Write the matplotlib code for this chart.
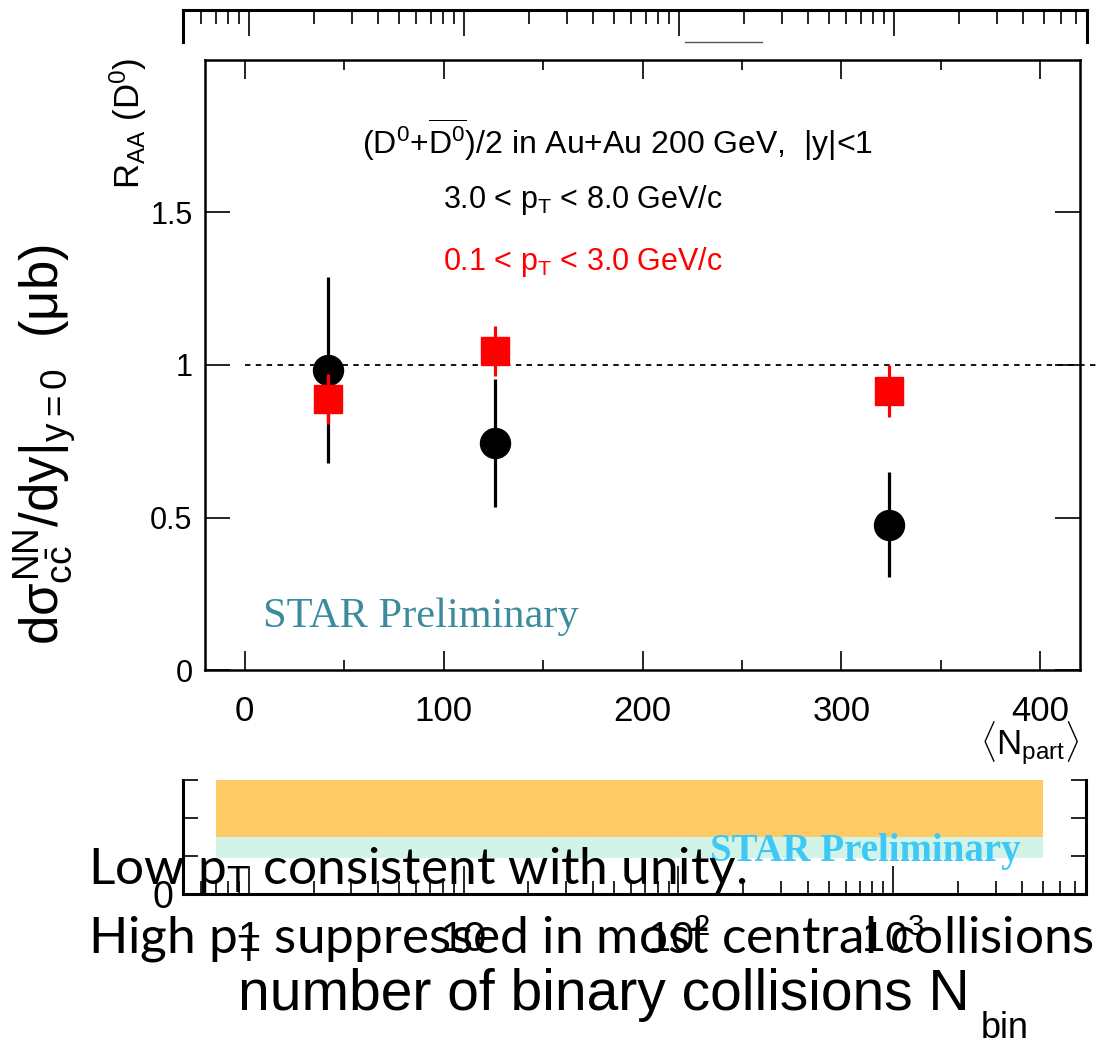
import matplotlib
matplotlib.use('Agg')
import matplotlib.pyplot as plt
from matplotlib.lines import Line2D

plt.rcParams['font.family'] = ['Liberation Sans', 'DejaVu Sans']
plt.rcParams['mathtext.fontset'] = 'custom'
plt.rcParams['mathtext.rm'] = 'Liberation Sans'
plt.rcParams['mathtext.it'] = 'Liberation Sans'
plt.rcParams['mathtext.sf'] = 'Liberation Sans'

# D0 R_AA vs <Npart>, Au+Au 200 GeV
npart = [42, 126, 324]
raa_high = [0.984, 0.743, 0.477]      # 3.0 < pT < 8.0 GeV/c
err_high = [0.305, 0.21, 0.172]
raa_low = [0.888, 1.046, 0.916]       # 0.1 < pT < 3.0 GeV/c
err_low = [0.083, 0.081, 0.085]

# lower panel: band vs number of binary collisions
band_x = [0.7, 5000]
orange_band = [1.5, 3.0]
cyan_band = [0.95, 1.5]
nbin_ticks = [1, 10, 100, 1000]
nbin_labels = ['1', '10', '$10^2$', '$10^3$']

W, H = 1101, 1048
fig = plt.figure(figsize=(W / 100, H / 100), dpi=100)


def box(l, t, r, b):
    return [l / W, 1 - b / H, (r - l) / W, (b - t) / H]


# top strip with log ticks
axs = fig.add_axes(box(183, 10, 1087, 42))
axs.set_xscale('log')
axs.set_xlim(0.493, 7906)
axs.set_yticks([])
axs.spines['bottom'].set_visible(False)
for s in ['top', 'left', 'right']:
    axs.spines[s].set_linewidth(2.2)
axs.tick_params(axis='x', which='both', direction='in', bottom=False, top=True,
                labelbottom=False, labeltop=False, width=1.2)
axs.tick_params(axis='x', which='major', length=19)
axs.tick_params(axis='x', which='minor', length=10)
fig.add_artist(Line2D([685 / W, 762 / W], [1 - 42 / H, 1 - 42 / H], color='#555555', lw=1))

# lower panel
axl = fig.add_axes(box(183, 780, 1086, 894))
axl.set_xscale('log')
axl.set_xlim(0.493, 7906)
axl.set_ylim(0, 3)
axl.fill_between(band_x, orange_band[0], orange_band[1], color='#fdca66', lw=0)
axl.fill_between(band_x, cyan_band[0], cyan_band[1], color='#d2f3e8', lw=0)
axl.spines['top'].set_visible(False)
for s in ['bottom', 'left', 'right']:
    axl.spines[s].set_linewidth(2.2)
axl.set_yticks([0, 1, 2, 3])
axl.set_yticklabels(['0', '', '', ''])
axl.set_xticks(nbin_ticks)
axl.set_xticklabels(nbin_labels)
axl.tick_params(axis='y', direction='in', left=True, right=True, length=11,
                width=1.2, labelsize=27, pad=7)
axl.tick_params(axis='x', which='both', direction='in', top=False, width=1.2,
                labelsize=30, pad=19)
axl.tick_params(axis='x', which='major', length=20)
axl.tick_params(axis='x', which='minor', length=9.5)
axl.text(0.5836, 0.37, 'STAR Preliminary', transform=axl.transAxes,
         family='Liberation Serif', weight='bold', color='#3ec8f5',
         fontsize=28, va='center', ha='left')
fig.text(238 / W, 1 - 995 / H, 'number of binary collisions N',
         fontsize=41, ha='left', va='center')
fig.text(981 / W, 1 - 1028 / H, 'bin', fontsize=26, ha='left', va='center')

# main panel
ax = fig.add_axes(box(205, 60, 1080, 670))
ax.set_xlim(-20, 420)
ax.set_ylim(0, 2)
ax.plot([0, 428], [1, 1], ls=(0, (3, 3)), color='black', lw=1.3, clip_on=False, zorder=1)
ax.errorbar(npart, raa_high, yerr=err_high, fmt='o', color='black', ms=21.6,
            elinewidth=2.3, capsize=0, zorder=3)
ax.errorbar(npart, raa_low, yerr=err_low, fmt='s', color='#ff0000', ms=20,
            elinewidth=2.3, capsize=0, zorder=4)
for s in ax.spines.values():
    s.set_linewidth(1.8)
ax.set_xticks([0, 100, 200, 300, 400])
ax.set_xticks([50, 150, 250, 350], minor=True)
ax.set_yticks([0, 0.5, 1, 1.5])
ax.set_yticklabels(['0', '0.5', '1', '1.5'])
ax.tick_params(axis='x', which='both', direction='in', top=True, width=1.2,
               labelsize=25, pad=18)
ax.tick_params(axis='x', which='major', length=14)
ax.tick_params(axis='x', which='minor', length=7)
ax.tick_params(axis='y', direction='in', right=True, length=18, width=1.2,
               labelsize=22, pad=9)

ax.text(0.18, 0.869, r'(D$^0$+$\overline{\mathrm{D}^0}$)/2 in Au+Au 200 GeV,  |y|<1',
        transform=ax.transAxes, fontsize=23, va='center', ha='left')
ax.text(0.272, 0.770, r'3.0 < p$_{\mathrm{T}}$ < 8.0 GeV/c', transform=ax.transAxes,
        fontsize=22, va='center', ha='left')
ax.text(0.272, 0.669, r'0.1 < p$_{\mathrm{T}}$ < 3.0 GeV/c', transform=ax.transAxes,
        fontsize=22, va='center', ha='left', color='#ff0000')
ax.text(0.066, 0.087, 'STAR Preliminary', transform=ax.transAxes,
        family='Liberation Serif', color='#3a8b9c', fontsize=30.5, va='center', ha='left')

fig.text(1080 / W, 1 - 743 / H, r'$\langle$N$_{\mathrm{part}}\rangle$',
         fontsize=25, ha='right', va='center')
fig.text(128 / W, 1 - 58 / H, r'R$_{\mathrm{AA}}$ (D$^0$)', rotation=90,
         fontsize=25, ha='center', va='top')
fig.text(45 / W, 1 - 445 / H,
         r'd$\sigma^{\mathrm{NN}}_{\mathrm{c\bar{c}}}$/dy|$_{\mathrm{y=0}}$  ($\mu$b)',
         rotation=90, fontsize=38, ha='center', va='center')

# slide remarks on top
fig.text(88 / W, 1 - 884 / H, r'Low p$_{\mathrm{T}}$ consistent with unity.',
         family=['Lato', 'DejaVu Sans'], fontsize=37, va='baseline', ha='left', zorder=10)
fig.text(88 / W, 1 - 952 / H, r'High p$_{\mathrm{T}}$ suppressed in most central collisions',
         family=['Lato', 'DejaVu Sans'], fontsize=37, va='baseline', ha='left', zorder=10)

fig.savefig('out.png', dpi=100)
